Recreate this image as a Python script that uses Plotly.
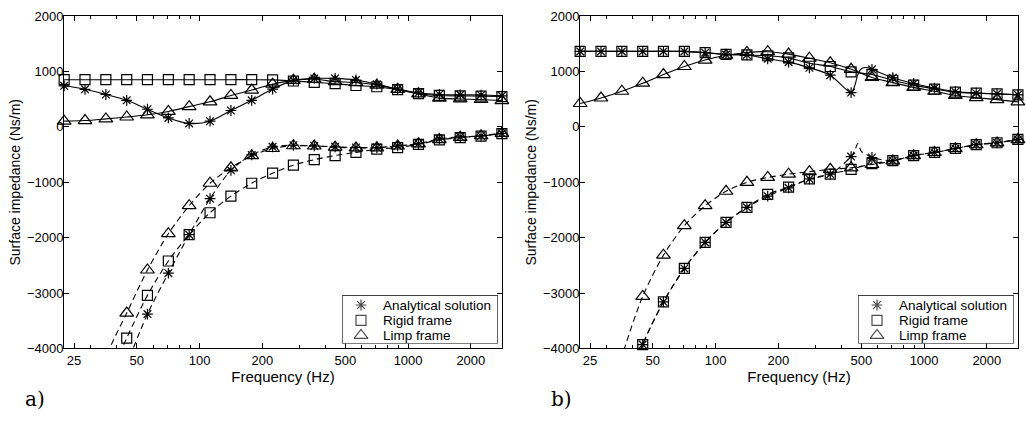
import plotly.graph_objects as go

# One-third-octave band edges (Hz) at which the impedances are sampled
FREQ = [22.4, 28.2, 35.5, 44.7, 56.2, 70.8, 89.1, 112.2, 141.3, 177.8, 223.9,
        281.8, 354.8, 446.7, 562.3, 707.9, 891.3, 1122.0, 1412.5, 1778.3,
        2238.7, 2818.4]

# Panel a): real (solid) and imaginary (dashed) parts, Ns/m
A_ANALYTIC_RE = [742, 679, 585, 481, 319, 162, 63, 104, 296, 481, 684, 841,
                 876, 876, 847, 772, 684, 615, 585, 580, 575, 562]
A_RIGID_RE = [853, 853, 853, 853, 853, 853, 853, 853, 853, 853, 850, 829,
              805, 780, 748, 725, 672, 600, 568, 560, 555, 548]
A_LIMP_RE = [104, 115, 145, 179, 219, 279, 366, 453, 568, 665, 772, 841,
             860, 818, 801, 754, 679, 597, 520, 505, 495, 475]
A_ANALYTIC_IM = [-8500, -6900, -5400, -4300, -3379, -2642, -1946, -1296, -784,
                 -506, -360, -331, -343, -360, -372, -372, -343, -302, -215,
                 -180, -163, -116]
A_RIGID_IM = [-7000, -5700, -4680, -3814, -3042, -2421, -1946, -1550, -1249,
              -1017, -836, -691, -592, -517, -460, -401, -373, -315, -235,
              -192, -165, -120]
A_LIMP_IM = [-6500, -5200, -4150, -3361, -2584, -1928, -1423, -1017, -738,
             -520, -390, -340, -345, -365, -380, -378, -345, -305, -228, -188,
             -160, -115]

# Panel b)
B_ANALYTIC_RE = [1364, 1364, 1364, 1364, 1364, 1364, 1341, 1306, 1300, 1230,
                 1170, 1068, 934, 620, 1040, 888, 784, 702, 637, 610, 597, 580]
B_RIGID_RE = [1364, 1364, 1364, 1364, 1364, 1364, 1340, 1310, 1300, 1285,
              1245, 1149, 1091, 995, 946, 843, 754, 684, 627, 610, 597, 580]
B_LIMP_RE = [423, 522, 644, 789, 946, 1091, 1207, 1294, 1345, 1358, 1315,
             1240, 1158, 1040, 894, 800, 714, 644, 568, 528, 493, 453]
B_ANALYTIC_IM = [-9000, -7200, -5100, -3931, -3159, -2555, -2085, -1724,
                 -1452, -1250, -1100, -940, -853, -535, -552, -610, -517,
                 -460, -390, -320, -286, -226]
B_RIGID_IM = [-8800, -7000, -5050, -3931, -3159, -2555, -2085, -1724, -1452,
              -1219, -1087, -940, -853, -766, -662, -610, -517, -460, -390,
              -320, -286, -226]
B_LIMP_IM = [-7000, -5500, -4150, -3060, -2316, -1783, -1423, -1162, -1000,
             -913, -853, -808, -766, -738, -679, -615, -520, -462, -392,
             -322, -288, -228]

# Extra analytical samples around the frame resonance (line only)
B_RES_FREQ = [465, 481, 500, 530]
B_RES_RE = [742, 946, 1050, 1073]
B_RES_IM = [-430, -300, -440, -500]

X_TICKS = [25, 50, 100, 200, 500, 1000, 2000]
X_MINOR = [30, 40, 60, 70, 80, 90, 300, 400, 600, 700, 800, 900]
Y_TICKS = [-4000, -3000, -2000, -1000, 0, 1000, 2000]

NAMES = ["Analytical solution", "Rigid frame", "Limp frame"]
SYMBOLS = ["asterisk-open", "square-open", "triangle-up-open"]
SIZES = [9, 10, 12]

FONT = "Liberation Sans, Arial, Helvetica, sans-serif"
SERIF = "DejaVu Serif, Liberation Serif, serif"
W, H = 1026, 422

# plot-area geometry in pixels
PLOT_TOP, PLOT_BOTTOM = 9.5, 354
PANEL_X = [(64, 502), (580, 1018)]
# legend box: width/height in px, inset from lower-right corner
LEG_W, LEG_H, LEG_INSET_R, LEG_INSET_B = 156, 50, 4, 5
LEG_SYM_X, LEG_TEXT_X = 19, 38.5
LEG_ROWS = [10, 26, 41.5]

fig = go.Figure()


def add_panel(xa, ya, lines, marks):
    for fre, re, fim, im in lines:
        # smooth curves: solid = real part, dashed = imaginary part
        fig.add_trace(go.Scatter(
            x=fre, y=re, mode="lines", xaxis=xa, yaxis=ya,
            line=dict(color="black", width=1.1, shape="spline", smoothing=0.8),
            showlegend=False, hoverinfo="skip"))
        fig.add_trace(go.Scatter(
            x=fim, y=im, mode="lines", xaxis=xa, yaxis=ya,
            line=dict(color="black", width=1.1, dash="6px,4px",
                      shape="spline", smoothing=0.8),
            showlegend=False, hoverinfo="skip"))
    for i, (re, im) in enumerate(marks):
        mk = dict(symbol=SYMBOLS[i], size=SIZES[i], color="black",
                  line=dict(color="black", width=1.2))
        for vals in (re, im):
            fig.add_trace(go.Scatter(
                x=FREQ, y=vals, mode="markers", xaxis=xa, yaxis=ya,
                marker=mk, cliponaxis=False, name=NAMES[i],
                showlegend=False))


def add_legend(xa, ya):
    fig.add_trace(go.Scatter(
        x=[LEG_SYM_X] * 3, y=LEG_ROWS, mode="markers", xaxis=xa, yaxis=ya,
        marker=dict(symbol=SYMBOLS, size=SIZES, color="black",
                    line=dict(color="black", width=1.2)),
        cliponaxis=False, showlegend=False, hoverinfo="skip"))
    fig.add_shape(type="rect", xref=xa, yref=ya, x0=0, x1=LEG_W, y0=0,
                  y1=LEG_H, line=dict(color="black", width=1.2))
    for name, yy in zip(NAMES, LEG_ROWS):
        fig.add_annotation(text=name, x=LEG_TEXT_X, y=yy, xref=xa, yref=ya,
                           xanchor="left", yanchor="middle", showarrow=False,
                           font=dict(family=FONT, size=13.5, color="black"))


add_panel("x", "y", [
    (FREQ, A_ANALYTIC_RE, FREQ, A_ANALYTIC_IM),
    (FREQ, A_RIGID_RE, FREQ, A_RIGID_IM),
    (FREQ, A_LIMP_RE, FREQ, A_LIMP_IM),
], [(A_ANALYTIC_RE, A_ANALYTIC_IM), (A_RIGID_RE, A_RIGID_IM),
    (A_LIMP_RE, A_LIMP_IM)])

# analytical curve of panel b) includes the resonance samples
b_line_f = FREQ[:14] + B_RES_FREQ + FREQ[14:]
b_line_re = B_ANALYTIC_RE[:14] + B_RES_RE + B_ANALYTIC_RE[14:]
b_line_im = B_ANALYTIC_IM[:14] + B_RES_IM + B_ANALYTIC_IM[14:]

add_panel("x2", "y2", [
    (b_line_f, b_line_re, b_line_f, b_line_im),
    (FREQ, B_RIGID_RE, FREQ, B_RIGID_IM),
    (FREQ, B_LIMP_RE, FREQ, B_LIMP_IM),
], [(B_ANALYTIC_RE, B_ANALYTIC_IM), (B_RIGID_RE, B_RIGID_IM),
    (B_LIMP_RE, B_LIMP_IM)])

add_legend("x3", "y3")
add_legend("x4", "y4")

ydom = [(H - PLOT_BOTTOM) / H, (H - PLOT_TOP) / H]

xaxis_common = dict(
    type="log", range=[1.3495, 3.4505], tickmode="array", tickvals=X_TICKS,
    ticktext=[str(v) for v in X_TICKS], ticks="inside", ticklen=5,
    tickwidth=1, tickcolor="black", showline=True, linecolor="black",
    linewidth=1, mirror="ticks", showgrid=False, zeroline=False,
    tickfont=dict(family=FONT, size=13, color="black"),
    title=dict(text="Frequency (Hz)", font=dict(family=FONT, size=15,
                                                 color="black"), standoff=4),
    minor=dict(tickmode="array", tickvals=X_MINOR, ticks="inside",
               ticklen=3, tickcolor="black", showgrid=False),
)
yaxis_common = dict(
    range=[-4000, 2000], tickmode="array", tickvals=Y_TICKS, ticks="inside",
    ticklen=5, tickwidth=1, tickcolor="black", showline=True,
    linecolor="black", linewidth=1, mirror="ticks", showgrid=False,
    zeroline=False, domain=ydom, ticklabelstandoff=-3,
    tickfont=dict(family=FONT, size=13, color="black"),
    title=dict(text="Surface impedance (Ns/m)",
               font=dict(family=FONT, size=14, color="black"), standoff=2),
)


def legend_axes(panel):
    x0, x1 = PANEL_X[panel]
    right = x1 - LEG_INSET_R
    bottom = PLOT_BOTTOM - LEG_INSET_B
    xd = [(right - LEG_W) / W, right / W]
    yd = [(H - bottom) / H, (H - bottom + LEG_H) / H]
    xa = dict(domain=xd, range=[0, LEG_W], visible=False, fixedrange=True)
    ya = dict(domain=yd, range=[LEG_H, 0], visible=False, fixedrange=True)
    return xa, ya


lx3, ly3 = legend_axes(0)
lx4, ly4 = legend_axes(1)

fig.update_layout(
    width=W, height=H, margin=dict(l=0, r=0, t=0, b=0),
    paper_bgcolor="white", plot_bgcolor="white", showlegend=False,
    xaxis=dict(xaxis_common, domain=[PANEL_X[0][0] / W, PANEL_X[0][1] / W],
               anchor="y"),
    yaxis=dict(yaxis_common, anchor="x"),
    xaxis2=dict(xaxis_common, domain=[PANEL_X[1][0] / W, PANEL_X[1][1] / W],
                anchor="y2"),
    yaxis2=dict(yaxis_common, anchor="x2"),
    xaxis3=dict(lx3, anchor="y3"), yaxis3=dict(ly3, anchor="x3"),
    xaxis4=dict(lx4, anchor="y4"), yaxis4=dict(ly4, anchor="x4"),
)

for label, xpix in (("a)", 35), ("b)", 561)):
    fig.add_annotation(text=label, x=xpix / W, y=(H - 406) / H,
                       xref="paper", yref="paper", xanchor="center",
                       yanchor="middle", showarrow=False,
                       font=dict(family=SERIF, size=20, color="black"))

fig.write_html("out.html")
